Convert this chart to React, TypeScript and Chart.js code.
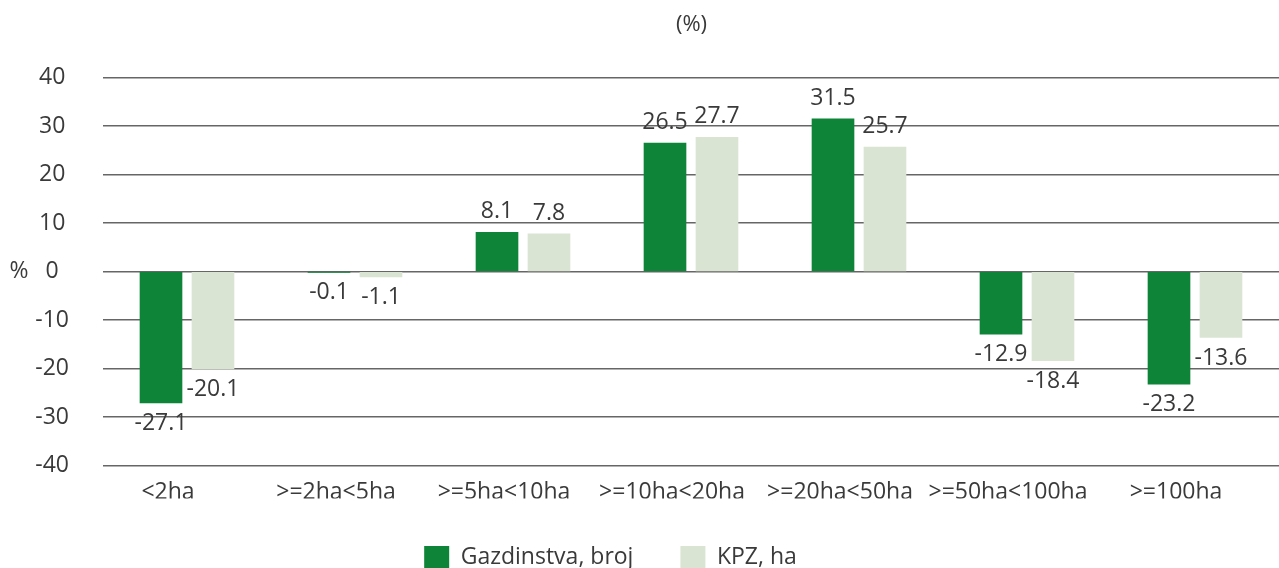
import React, { useEffect, useRef } from "react";
import { Chart, registerables } from "chart.js";

Chart.register(...registerables);

// ---- data ----
const categories = ["<2ha", ">=2ha<5ha", ">=5ha<10ha", ">=10ha<20ha", ">=20ha<50ha", ">=50ha<100ha", ">=100ha"];
const gazdinstva = [-27.1, -0.1, 8.1, 26.5, 31.5, -12.9, -23.2];
const kpz = [-20.1, -1.1, 7.8, 27.7, 25.7, -18.4, -13.6];
const seriesNames = ["Gazdinstva, broj", "KPZ, ha"];
const yMin = -40;
const yMax = 40;
const yStep = 10;
const titleText = "(%)";
const yUnitText = "%";

// ---- styles ----
const FONT = "'Open Sans', 'DejaVu Sans', sans-serif";
const TEXT = "#3a3a3a";
const GREEN = "#0e8438";
const LIGHT = "#d9e4d3";
const GRID = "#666666";

const valueLabels = {
  id: "valueLabels",
  afterDatasetsDraw(chart: any) {
    const ctx = chart.ctx;
    ctx.save();
    ctx.font = `23px ${FONT}`;
    ctx.fillStyle = TEXT;
    ctx.textAlign = "center";
    ctx.textBaseline = "alphabetic";
    chart.data.datasets.forEach((ds: any, di: number) => {
      const meta = chart.getDatasetMeta(di);
      meta.data.forEach((bar: any, i: number) => {
        const v = ds.data[i] as number;
        const y = v >= 0 ? bar.y - 14 : bar.y + 27;
        ctx.fillText(v.toFixed(1), bar.x, y);
      });
    });
    ctx.restore();
  },
};

const unitLabel = {
  id: "unitLabel",
  afterDraw(chart: any) {
    const ctx = chart.ctx;
    const y = chart.scales.y.getPixelForValue(0);
    ctx.save();
    ctx.font = `23px ${FONT}`;
    ctx.fillStyle = TEXT;
    ctx.textAlign = "center";
    ctx.textBaseline = "middle";
    ctx.fillText(yUnitText, 19, y);
    ctx.restore();
  },
};

const shiftBoxes = {
  id: "shiftBoxes",
  afterLayout(chart: any) {
    const t = chart.titleBlock;
    if (t) {
      t.left += 52;
      t.right += 52;
    }
    const l = chart.legend;
    if (l) {
      l.left -= 29;
      l.right -= 29;
    }
  },
};

export default function App() {
  const ref = useRef<HTMLCanvasElement | null>(null);

  useEffect(() => {
    if (!ref.current) return;
    const chart = new Chart(ref.current, {
      type: "bar",
      data: {
        labels: categories,
        datasets: [
          {
            label: seriesNames[0],
            data: gazdinstva,
            backgroundColor: GREEN,
            borderWidth: 0,
            barThickness: 52,
            maxBarThickness: 42,
          },
          {
            label: seriesNames[1],
            data: kpz,
            backgroundColor: LIGHT,
            borderWidth: 0,
            barThickness: 52,
            maxBarThickness: 42,
          },
        ],
      },
      options: {
        responsive: false,
        animation: false,
        devicePixelRatio: 1,
        layout: { padding: { top: 0, left: 0, right: 0, bottom: -10.5 } },
        scales: {
          x: {
            grid: { display: false, drawTicks: false },
            border: { display: false },
            ticks: {
              color: TEXT,
              font: { family: FONT, size: 23 },
              padding: 13,
              labelOffset: -19,
              autoSkip: false,
              maxRotation: 0,
              minRotation: 0,
            },
            afterFit(scale: any) {
              scale.height = 33;
            },
          },
          y: {
            min: yMin,
            max: yMax,
            grid: { color: GRID, lineWidth: 1.6, drawTicks: false },
            border: { display: false },
            ticks: {
              stepSize: yStep,
              color: TEXT,
              font: { family: FONT, size: 23 },
              padding: 34,
              crossAlign: "center",
            },
            afterFit(scale: any) {
              scale.width = 103;
            },
          },
        },
        plugins: {
          title: {
            display: true,
            text: titleText,
            color: TEXT,
            font: { family: FONT, size: 22, weight: "normal" },
            padding: { top: 12, bottom: 39.3 },
          },
          legend: {
            display: true,
            position: "bottom",
            labels: {
              color: TEXT,
              font: { family: FONT, size: 23 },
              boxWidth: 25,
              boxHeight: 22,
              padding: 47,
            },
          },
          tooltip: { enabled: false },
        },
      },
      plugins: [valueLabels, unitLabel, shiftBoxes],
    } as any);
    return () => chart.destroy();
  }, []);

  return (
    <div style={{ position: "absolute", left: 0, top: 0, width: 1279, height: 568, background: "#fff" }}>
      <canvas ref={ref} width={1279} height={568} />
    </div>
  );
}
